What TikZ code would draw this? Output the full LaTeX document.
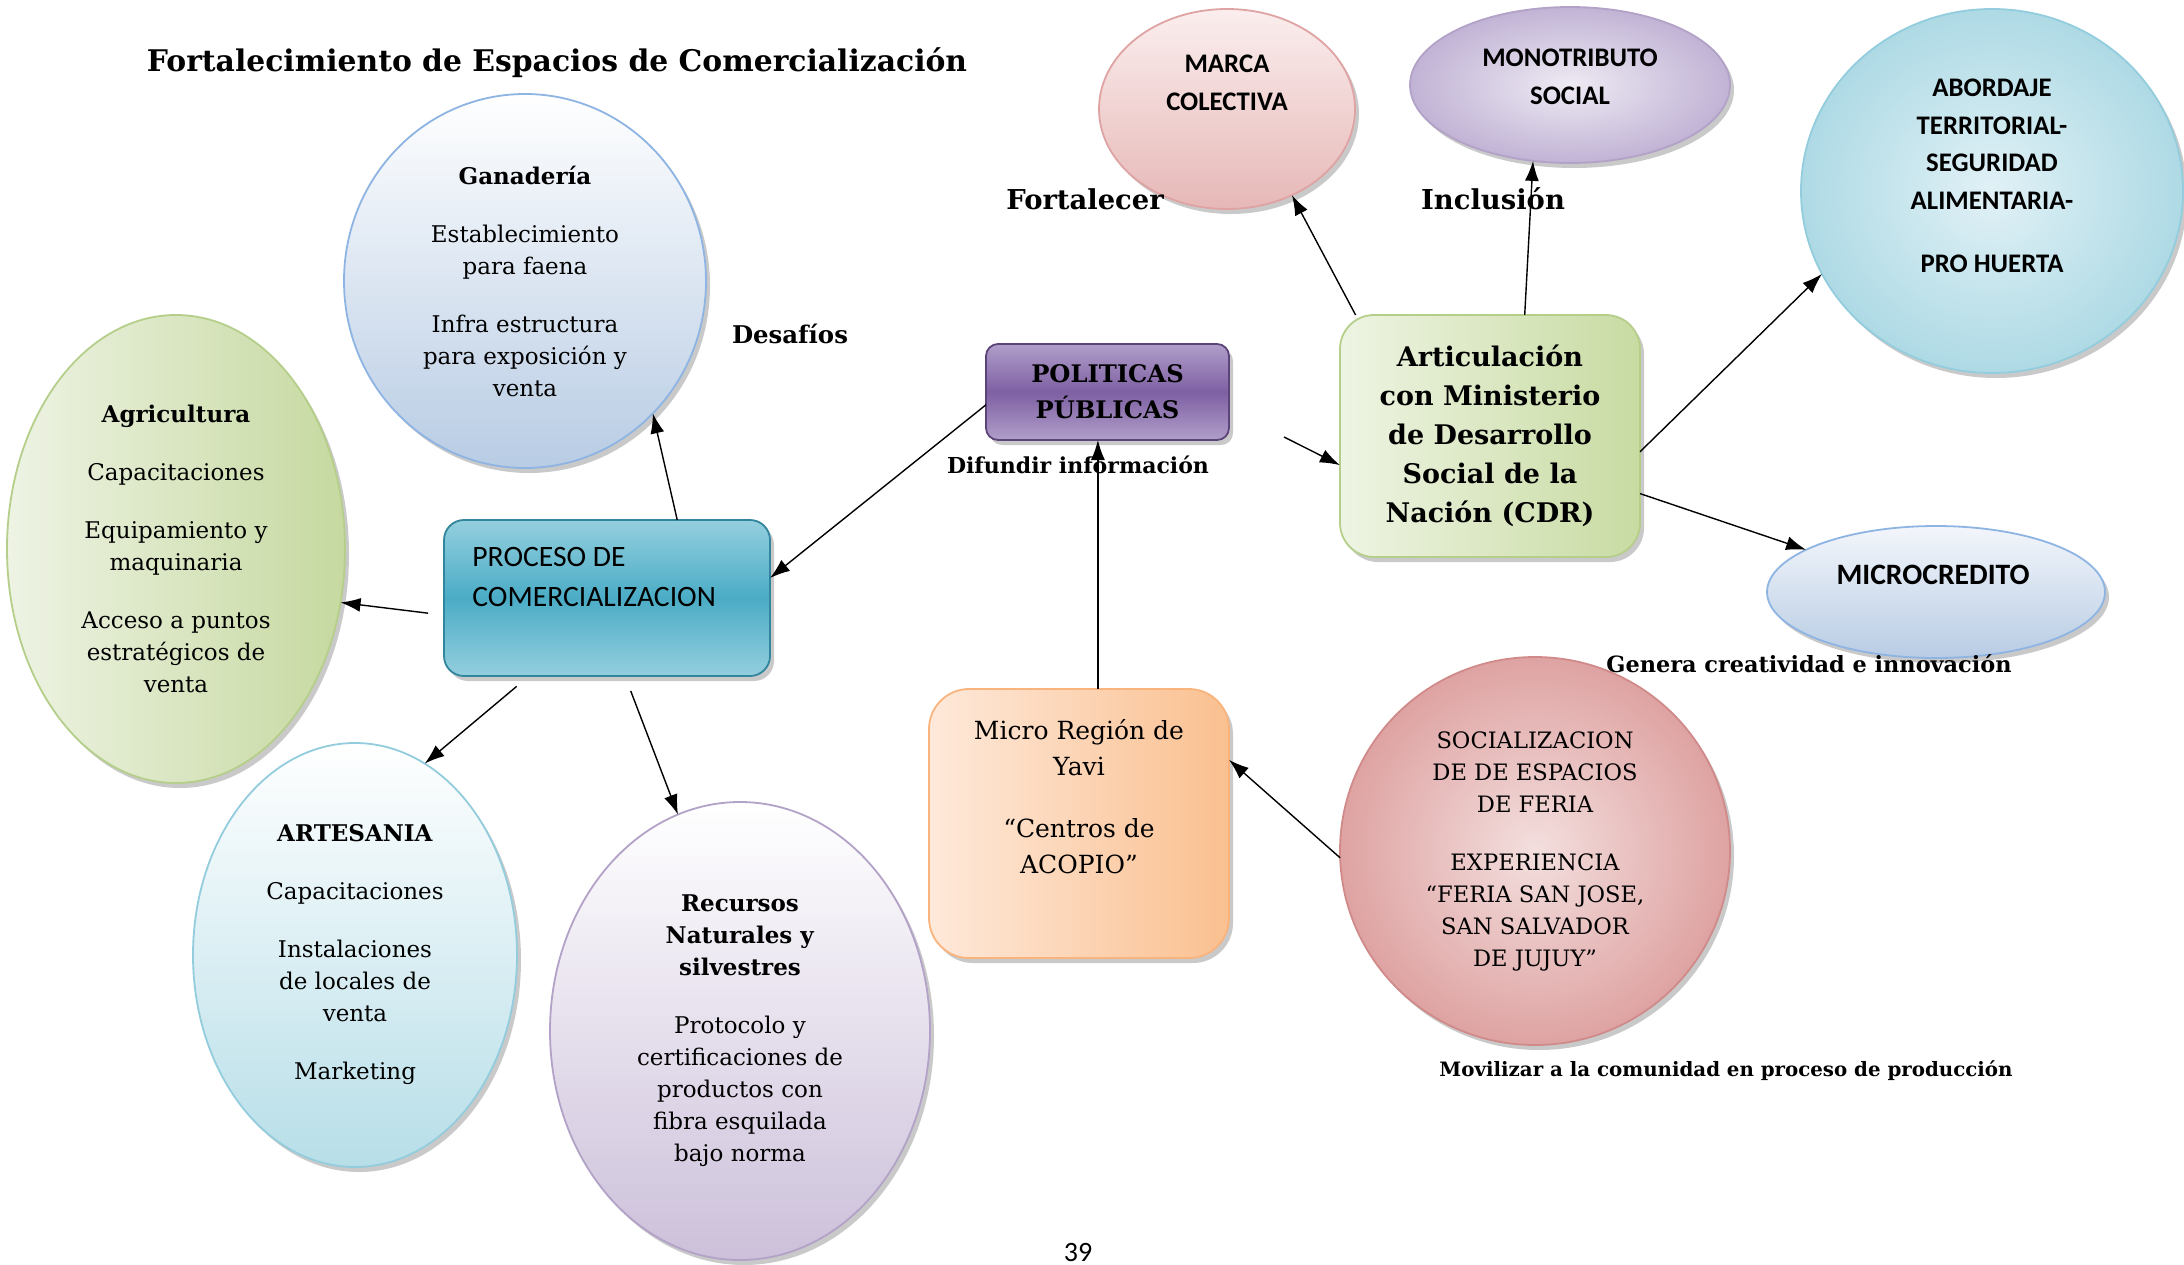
\documentclass[tikz,border=0pt]{standalone}
\usepackage{fontspec}
\setmainfont{DejaVu Serif}
\setsansfont{Carlito}
\usetikzlibrary{shapes.geometric,shadows,arrows.meta}
\definecolor{ganB}{HTML}{B8CCE4}
\definecolor{ganD}{HTML}{8EB4E3}
\definecolor{agL}{HTML}{EEF3E4}
\definecolor{agR}{HTML}{C6D9A0}
\definecolor{agD}{HTML}{B5CF8A}
\definecolor{arB}{HTML}{B7DEE8}
\definecolor{arD}{HTML}{93CDDD}
\definecolor{reB}{HTML}{CCC0DA}
\definecolor{reD}{HTML}{B3A2C7}
\definecolor{soI}{HTML}{F3DFDE}
\definecolor{soO}{HTML}{DEA3A2}
\definecolor{soD}{HTML}{D08A89}
\definecolor{maT}{HTML}{FBEEEE}
\definecolor{maB}{HTML}{E6B8B7}
\definecolor{moI}{HTML}{EEEAF3}
\definecolor{moO}{HTML}{C1B3D5}
\definecolor{abI}{HTML}{E1F1F6}
\definecolor{abO}{HTML}{AEDAE5}
\definecolor{miT}{HTML}{F3F6FB}
\definecolor{prT}{HTML}{94CFDE}
\definecolor{prM}{HTML}{4BACC6}
\definecolor{prD}{HTML}{31859C}
\definecolor{poT}{HTML}{B09ECA}
\definecolor{poM}{HTML}{7E60A3}
\definecolor{poD}{HTML}{5C4479}
\definecolor{orL}{HTML}{FEE9DA}
\definecolor{orR}{HTML}{FAC090}
\definecolor{orD}{HTML}{F9B47E}
\definecolor{grL}{HTML}{EEF4E3}
\definecolor{grR}{HTML}{C8DBA2}
\tikzset{
  shad/.style={drop shadow={shadow xshift=2pt,shadow yshift=-2.5pt,opacity=0.35,fill=black!60}},
  oval/.style={ellipse, inner sep=0pt, outer sep=0pt, line width=0.9pt, shad, align=center},
  rbox/.style={rectangle, inner sep=0pt, outer sep=0pt, line width=0.9pt, shad, align=center},
  body/.style={font=\fontsize{11.5}{16}\selectfont},
  conn/.style={-{Latex[length=10pt,width=7pt]}, line width=0.7pt},
  sanslab/.style={align=center, font=\sffamily\bfseries\fontsize{13.4}{19}\selectfont},
}
\begin{document}
\begin{tikzpicture}[x=0.5pt,y=-0.5pt]
\useasboundingbox (0,0) rectangle (2184,1264);
\fill[white] (0,0) rectangle (2184,1264);

\node[font=\bfseries\fontsize{14.9}{17}\selectfont] (title) at (557,63) {Fortalecimiento de Espacios de Comercialización};

% left cluster
\node[oval, minimum width=181pt, minimum height=187pt, top color=white, bottom color=ganB, draw=ganD, body] (gan) at (525,281)
  {\textbf{Ganadería}\\[13pt]Establecimiento\\para faena\\[13pt]Infra estructura\\para exposición y\\venta};
\node[oval, minimum width=169pt, minimum height=234pt, left color=agL, right color=agR, draw=agD, body] (agri) at (176,549)
  {\textbf{Agricultura}\\[13pt]Capacitaciones\\[13pt]Equipamiento y\\maquinaria\\[13pt]Acceso a puntos\\estratégicos de\\venta};
\node[oval, minimum width=162pt, minimum height=212pt, top color=white, bottom color=arB, draw=arD, body] (arte) at (355,955)
  {\textbf{ARTESANIA}\\[13pt]Capacitaciones\\[13pt]Instalaciones\\de locales de\\venta\\[13pt]Marketing};
\node[oval, minimum width=190pt, minimum height=229pt, top color=white, bottom color=reB, draw=reD, body] (recur) at (740,1031)
  {\textbf{Recursos}\\\textbf{Naturales y}\\\textbf{silvestres}\\[13pt]Protocolo y\\certificaciones de\\productos con\\fibra esquilada\\bajo norma};

\node[rbox, rounded corners=10pt, minimum width=163pt, minimum height=78pt, top color=prT, bottom color=prT, middle color=prM, draw=prD] (proceso) at (607,598) {};
\node[anchor=west, align=left, inner sep=0pt, font=\sffamily\fontsize{14.8}{20}\selectfont] (proctxt) at (472,577) {PROCESO DE\\COMERCIALIZACION};

\node[rbox, rounded corners=6pt, minimum width=121.5pt, minimum height=48pt, top color=poT, bottom color=poT, middle color=poM, draw=poD, font=\bfseries\fontsize{12.1}{18}\selectfont] (politicas) at (1107.5,392) {POLITICAS\\PÚBLICAS};

\node[rbox, rounded corners=20pt, minimum width=150pt, minimum height=134.5pt, left color=orL, right color=orR, draw=orD] (micro) at (1079,823.5) {};
\node[align=center, font=\fontsize{12.5}{18}\selectfont] (microtxt) at (1079,797) {Micro Región de\\Yavi\\[13pt]“Centros de\\ACOPIO”};

\node[oval, minimum width=195pt, minimum height=194pt, inner color=soI, outer color=soO, draw=soD, font=\fontsize{11.3}{16}\selectfont] (social) at (1535,851)
  {SOCIALIZACION\\DE DE ESPACIOS\\DE FERIA\\[13pt]EXPERIENCIA\\“FERIA SAN JOSE,\\SAN SALVADOR\\DE JUJUY”};

\node[rbox, rounded corners=17pt, minimum width=150pt, minimum height=121pt, left color=grL, right color=grR, draw=agD, font=\bfseries\fontsize{13.5}{19.5}\selectfont] (artic) at (1490,436)
  {Articulación\\con Ministerio\\de Desarrollo\\Social de la\\Nación (CDR)};

% right cluster
\node[oval, minimum width=128pt, minimum height=100pt, top color=maT, bottom color=maB, draw=soO] (marca) at (1227,109) {};
\node[sanslab] (marcatxt) at (1227,83) {MARCA\\COLECTIVA};
\node[oval, minimum width=160pt, minimum height=78pt, inner color=moI, outer color=moO, draw=reD] (mono) at (1570,85) {};
\node[sanslab] (monotxt) at (1570,77) {MONOTRIBUTO\\SOCIAL};
\node[oval, minimum width=191pt, minimum height=182pt, inner color=abI, outer color=abO, draw=arD] (abor) at (1992,191) {};
\node[sanslab, font=\sffamily\bfseries\fontsize{13.4}{18.8}\selectfont] (abortxt) at (1992,176) {ABORDAJE\\TERRITORIAL-\\SEGURIDAD\\ALIMENTARIA-\\[13pt]PRO HUERTA};
\node[oval, minimum width=169pt, minimum height=66pt, top color=miT, bottom color=ganB, draw=ganD] (micro2) at (1936,592) {};
\node[font=\sffamily\bfseries\fontsize{14.8}{16}\selectfont] (micro2txt) at (1933,575) {MICROCREDITO};

% labels
\node[font=\bfseries\fontsize{13.7}{15}\selectfont] (fort) at (1085,199) {Fortalecer};
\node[font=\bfseries\fontsize{13.7}{15}\selectfont] (incl) at (1493,199) {Inclusión};
\node[font=\bfseries\fontsize{12.2}{14}\selectfont] (desaf) at (790,334) {Desafíos};
\node[font=\bfseries\fontsize{11}{13}\selectfont] (difu) at (1078,465) {Difundir información};
\node[font=\bfseries\fontsize{11.2}{13}\selectfont] (genera) at (1809,664) {Genera creatividad e innovación};
\node[font=\bfseries\fontsize{9.9}{12}\selectfont] (movil) at (1726,1071) {Movilizar a la comunidad en proceso de producción};
\node[font=\sffamily\fontsize{14}{16}\selectfont] (page) at (1078,1252) {39};

% connectors
\draw[conn] (proceso.48) -- (gan.-46);
\draw[conn, shorten <=8pt] (proceso.186) -- (agri.-18);
\draw[conn, shorten <=8pt] (proceso.-135) -- (arte.70);
\draw[conn, shorten <=8pt] (proceso.-77) -- (recur.106);
\draw[conn] (politicas.186) -- (proceso.7);
\draw[conn] (micro.82) -- (micro.82 |- politicas.south);
\coordinate (pfree) at (1284,437);
\draw[conn] (pfree) -- (artic.191);
\draw[conn] (social.182) -- (micro.23);
\draw[conn] (artic.138) -- (marca.-53);
\draw[conn] (artic.74) -- (mono.-116);
\draw[conn] (artic.-6) -- (abor.206);
\draw[conn] (artic.-21) -- (micro2.162);
\end{tikzpicture}
\end{document}
